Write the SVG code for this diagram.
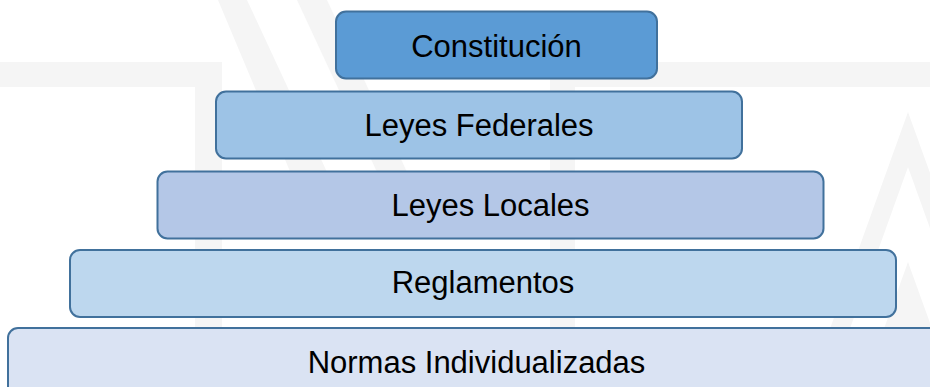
<svg xmlns="http://www.w3.org/2000/svg" width="930" height="387" viewBox="0 0 930 387">
  <style>
    .wm { fill: #f5f5f5; stroke: none; }
    .box { stroke: #41719c; stroke-width: 2; }
    .lbl { font-family: "Liberation Sans", Arial, sans-serif; font-size: 31px; fill: #000; text-anchor: middle; }
  </style>
  <rect x="0" y="0" width="930" height="387" fill="#ffffff"/>
  <g id="watermark">
    <rect class="wm" x="0" y="62" width="222" height="25"/>
    <rect class="wm" x="195" y="62" width="27" height="325"/>
    <rect class="wm" x="550" y="62" width="380" height="25"/>
    <rect class="wm" x="550" y="87" width="25" height="300"/>
    <polygon class="wm" points="218,0 247,0 340,200 302,200"/>
    <polygon class="wm" points="297,0 327,0 420,200 390,200"/>
    <path class="wm" fill-rule="evenodd" d="M908,112 L809,387 L1007,387 Z M908,167 L829,387 L987,387 Z"/>
    <polygon class="wm" points="908,262 863,387 953,387"/>
  </g>
  <g id="node-constitucion">
    <rect class="box" x="336" y="11.5" width="321" height="67" rx="10" fill="#5b9bd5"/>
    <text class="lbl" x="496.5" y="56.5">Constitución</text>
  </g>
  <g id="node-leyes-federales">
    <rect class="box" x="216" y="91.5" width="526" height="67" rx="10" fill="#9dc3e6"/>
    <text class="lbl" x="479" y="135.5">Leyes Federales</text>
  </g>
  <g id="node-leyes-locales">
    <rect class="box" x="157.5" y="171.5" width="666" height="67" rx="10" fill="#b4c7e7"/>
    <text class="lbl" x="490.5" y="215.5">Leyes Locales</text>
  </g>
  <g id="node-reglamentos">
    <rect class="box" x="70" y="250" width="826" height="67" rx="10" fill="#bdd7ee"/>
    <text class="lbl" x="483" y="293">Reglamentos</text>
  </g>
  <g id="node-normas-individualizadas">
    <rect class="box" x="8" y="328" width="940" height="80" rx="10" fill="#dae3f3"/>
    <text class="lbl" x="476.5" y="373">Normas Individualizadas</text>
  </g>
  <g id="connectors"></g>
</svg>
